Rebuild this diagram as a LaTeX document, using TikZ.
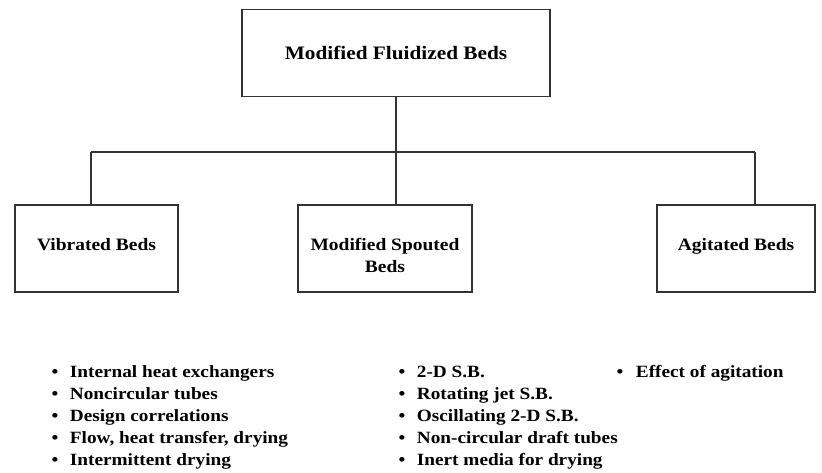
\documentclass[tikz,border=0pt]{standalone}
\usepackage{fontspec}
\setmainfont{Liberation Serif}[FakeStretch=1.12]
\usepackage{tikz}
\usetikzlibrary{calc}

\tikzset{
	bedbox/.style={draw=black!80, line width=1.6pt, align=center,
		inner sep=0pt, minimum height=87pt,
		text height=12pt, text depth=8pt,
		font=\fontsize{17.4}{22}\selectfont\bfseries},
	link/.style={draw=black!80, line width=1.5pt},
	itemlist/.style={anchor=north west, inner sep=0pt, align=left,
		font=\fontsize{17.2}{22}\selectfont\bfseries}
}

\begin{document}
\begin{tikzpicture}[x=1pt, y=-1pt]
	\useasboundingbox (0,0) rectangle (822,472);

	% boxes
	\node[bedbox, minimum width=308pt, text height=15pt, text depth=2pt,
		font=\fontsize{19}{22}\selectfont\bfseries]
		(fluid) at (396,53) {Modified Fluidized Beds};
	\node[bedbox, minimum width=163pt] (vib) at (96.5,248.5) {Vibrated Beds};
	\node[bedbox, minimum width=174pt, text height=50pt, text depth=1.6pt]
		(spout) at (385,248.5)
		{\begin{tabular}[b]{@{}c@{}}Modified Spouted\\Beds\end{tabular}};
	\node[bedbox, minimum width=158pt] (agit) at (736,248.5) {Agitated Beds};

	% connectors
	\coordinate (bus) at (fluid.south |- 0,152);
	\coordinate (busL) at (91,152);
	\coordinate (busR) at (755,152);
	\draw[link] (fluid.south) -- (bus);
	\draw[link] (busL) -- (busR);
	\draw[link] (busL) -- (busL |- vib.north);
	\draw[link] (bus) -- (bus |- spout.north);
	\draw[link] (busR) -- (busR |- agit.north);

	% lists
	\node[itemlist] (vibitems) at (51.5,362)
	{
		\begin{tabular}{@{}l@{\hspace{11.5pt}}l@{}}
			\textbullet & Internal heat exchangers \\
			\textbullet & Noncircular tubes \\
			\textbullet & Design correlations \\
			\textbullet & Flow, heat transfer, drying \\
			\textbullet & Intermittent drying \\
		\end{tabular}
	};
	\node[itemlist] (spoutitems) at (398.5,362)
	{
		\begin{tabular}{@{}l@{\hspace{11.5pt}}l@{}}
			\textbullet & 2-D S.B. \\
			\textbullet & Rotating jet S.B. \\
			\textbullet & Oscillating 2-D S.B. \\
			\textbullet & Non-circular draft tubes \\
			\textbullet & Inert media for drying \\
		\end{tabular}
	};
	\node[itemlist] (agititems) at (616.5,362)
	{
		\begin{tabular}{@{}l@{\hspace{12.5pt}}l@{}}
			\textbullet & Effect of agitation \\
		\end{tabular}
	};
\end{tikzpicture}
\end{document}
